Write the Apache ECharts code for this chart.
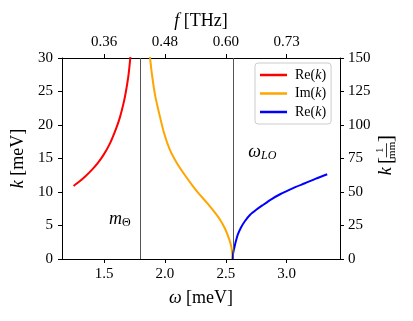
<!DOCTYPE html>
<html><head><meta charset="utf-8">
<script src="https://cdn.jsdelivr.net/npm/echarts@6/dist/echarts.min.js"></script>
<style>html,body{margin:0;padding:0;background:#fff}#c{width:413px;height:321px}</style>
</head><body><div id="c"></div>
<script>
// ---- data ----
const redOmega = [1.25, 1.30, 1.35, 1.40, 1.45, 1.50, 1.55, 1.60, 1.63, 1.66, 1.68, 1.70, 1.71, 1.72];
const redK     = [10.9, 11.6, 12.4, 13.3, 14.35, 15.65, 17.3, 19.5, 21.1, 23.2, 25.0, 27.3, 28.9, 30.8];
const orangeOmega = [1.869, 1.878, 1.894, 1.919, 1.952, 1.993, 2.042, 2.099, 2.165, 2.231, 2.288, 2.346, 2.403, 2.452, 2.493, 2.526, 2.547, 2.557];
const orangeK     = [31.5, 30.0, 27.5, 24.5, 21.8, 18.8, 16.25, 14.3, 12.5, 10.85, 9.57, 8.37, 7.1, 5.9, 4.55, 3.05, 1.7, 0];
const blueOmega = [2.557, 2.560, 2.565, 2.573, 2.585, 2.600, 2.625, 2.655, 2.70, 2.75, 2.80, 2.877, 2.95, 3.013, 3.08, 3.150, 3.24, 3.333];
const blueK     = [0, 0.8, 1.3, 1.9, 2.8, 3.7, 4.7, 5.6, 6.6, 7.35, 8.0, 8.95, 9.7, 10.25, 10.8, 11.3, 12.0, 12.65];
const vLines = [1.8, 2.557];
const bottomTicks = [1.5, 2.0, 2.5, 3.0];
const bottomTickLabels = ['1.5', '2.0', '2.5', '3.0'];
const topTickLabels = ['0.36', '0.48', '0.60', '0.73'];
const legendNames = ['Re(k)', 'Im(k)', 'Re(k)'];
const mThetaPos = [1.63, 6.0];
const omegaLOPos = [2.80, 16.0];

const zip = (a, b) => a.map((v, i) => [v, b[i]]);
const FONT = "'Liberation Serif','DejaVu Serif',serif";
const chart = echarts.init(document.getElementById('c'), null, {renderer: 'canvas'});

const axisCommon = {
  axisLine: {show: true, onZero: false, lineStyle: {color: '#000', width: 1}},
  axisTick: {show: true, inside: false, length: 4, lineStyle: {color: '#000', width: 1}},
  splitLine: {show: false},
  axisLabel: {color: '#000', fontFamily: FONT, fontSize: 15},
  nameTextStyle: {color: '#000', fontFamily: FONT, fontSize: 18},
};
const italic = {fontFamily: FONT, fontStyle: 'italic', fontSize: 18, color: '#000'};

const seriesNames = ['s_re1', 's_im', 's_re2'];
const legendMap = {s_re1: legendNames[0], s_im: legendNames[1], s_re2: legendNames[2]};

chart.setOption({
  animation: false,
  grid: {left: 62, right: 73, top: 58, bottom: 62, show: false},
  xAxis: [
    Object.assign({}, axisCommon, {
      type: 'value', position: 'bottom', min: 1.155, max: 3.438,
      axisTick: Object.assign({}, axisCommon.axisTick, {customValues: bottomTicks}),
      axisLabel: Object.assign({}, axisCommon.axisLabel, {margin: 8, customValues: bottomTicks,
        formatter: v => bottomTickLabels[bottomTicks.findIndex(t => Math.abs(t - v) < 1e-6)] || ''}),
      name: '{i|ω} [meV]', nameLocation: 'middle', nameGap: 30,
      nameTextStyle: Object.assign({}, axisCommon.nameTextStyle, {rich: {i: italic}})
    }),
    Object.assign({}, axisCommon, {
      type: 'value', position: 'top', min: 1.155, max: 3.438,
      axisTick: Object.assign({}, axisCommon.axisTick, {customValues: bottomTicks}),
      axisLabel: Object.assign({}, axisCommon.axisLabel, {margin: 8, customValues: bottomTicks,
        formatter: v => topTickLabels[bottomTicks.findIndex(t => Math.abs(t - v) < 1e-6)] || ''}),
      name: '{i|f} [THz]', nameLocation: 'middle', nameGap: 26,
      nameTextStyle: Object.assign({}, axisCommon.nameTextStyle, {rich: {i: italic}})
    })
  ],
  yAxis: [
    Object.assign({}, axisCommon, {
      type: 'value', position: 'left', min: 0, max: 30, interval: 5,
      axisLabel: Object.assign({}, axisCommon.axisLabel, {margin: 9}),
      name: '{i|k} [meV]', nameLocation: 'middle', nameGap: 31,
      nameTextStyle: Object.assign({}, axisCommon.nameTextStyle, {rich: {i: italic}})
    }),
    Object.assign({}, axisCommon, {
      type: 'value', position: 'right', min: 0, max: 150, interval: 25,
      axisLabel: Object.assign({}, axisCommon.axisLabel, {margin: 8})
    })
  ],
  legend: {
    orient: 'vertical', left: 255, top: 63,
    data: seriesNames,
    formatter: n => legendMap[n].replace('(k)', '({i|k})'),
    icon: 'rect', itemWidth: 27, itemHeight: 2.5, itemGap: 2.5,
    padding: [4, 5, 4, 5],
    backgroundColor: 'rgba(255,255,255,0.8)', borderColor: '#cccccc', borderWidth: 1, borderRadius: 3,
    textStyle: {fontFamily: FONT, fontSize: 14, color: '#000', lineHeight: 16, padding: [0, 0, 0, 3],
      rich: {i: {fontFamily: FONT, fontStyle: 'italic', fontSize: 14, color: '#000'}}}
  },
  series: [
    {name: seriesNames[0], type: 'line', data: zip(redOmega, redK), smooth: 0.25, showSymbol: false,
     color: '#ff0000', lineStyle: {width: 2, color: '#ff0000'}, clip: true,
     markLine: {silent: true, symbol: 'none', label: {show: false},
       lineStyle: {color: '#555', width: 1, type: 'solid'},
       data: vLines.map(v => ({xAxis: v}))},
     markPoint: {silent: true, symbol: 'circle', symbolSize: 0,
       label: {show: true, color: '#000', fontFamily: FONT,
         rich: {i: {fontFamily: FONT, fontStyle: 'italic', fontSize: 18, color: '#000'},
                s: {fontFamily: FONT, fontSize: 12, color: '#000', padding: [8, 0, 0, 0]}}},
       data: [
         {coord: mThetaPos, label: {formatter: '{i|m}{s|Θ}'}},
         {coord: omegaLOPos, label: {formatter: '{i|ω}{s|LO}', rich: {s: {fontFamily: FONT, fontStyle: 'italic', fontSize: 12, color: '#000', padding: [8, 0, 0, 0]}}}}
       ]}
    },
    {name: seriesNames[1], type: 'line', data: zip(orangeOmega, orangeK), smooth: 0.25, showSymbol: false,
     color: '#ffa500', lineStyle: {width: 2, color: '#ffa500'}, clip: true},
    {name: seriesNames[2], type: 'line', data: zip(blueOmega, blueK), smooth: 0.25, showSymbol: false,
     color: '#0000ff', lineStyle: {width: 2, color: '#0000ff'}, clip: true}
  ],
  graphic: [{
    type: 'group', left: 375, top: 135, rotation: Math.PI / 2,
    children: [
      {type: 'text', x: 0, y: 0, style: {text: 'k', font: "italic 18px 'Liberation Serif'", fill: '#000', textVerticalAlign: 'middle'}},
      {type: 'text', x: 11, y: 0, style: {text: '[', font: "22px 'Liberation Serif'", fill: '#000', textVerticalAlign: 'middle'}},
      {type: 'text', x: 25, y: -6, style: {text: '1', font: "11px 'Liberation Serif'", fill: '#000', textAlign: 'center', textVerticalAlign: 'middle'}},
      {type: 'line', shape: {x1: 18, y1: 0, x2: 32, y2: 0}, style: {stroke: '#000', lineWidth: 0.8}},
      {type: 'text', x: 25, y: 6, style: {text: 'mm', font: "11px 'Liberation Serif'", fill: '#000', textAlign: 'center', textVerticalAlign: 'middle'}},
      {type: 'text', x: 33, y: 0, style: {text: ']', font: "22px 'Liberation Serif'", fill: '#000', textVerticalAlign: 'middle'}}
    ]
  }]
});
</script></body></html>
